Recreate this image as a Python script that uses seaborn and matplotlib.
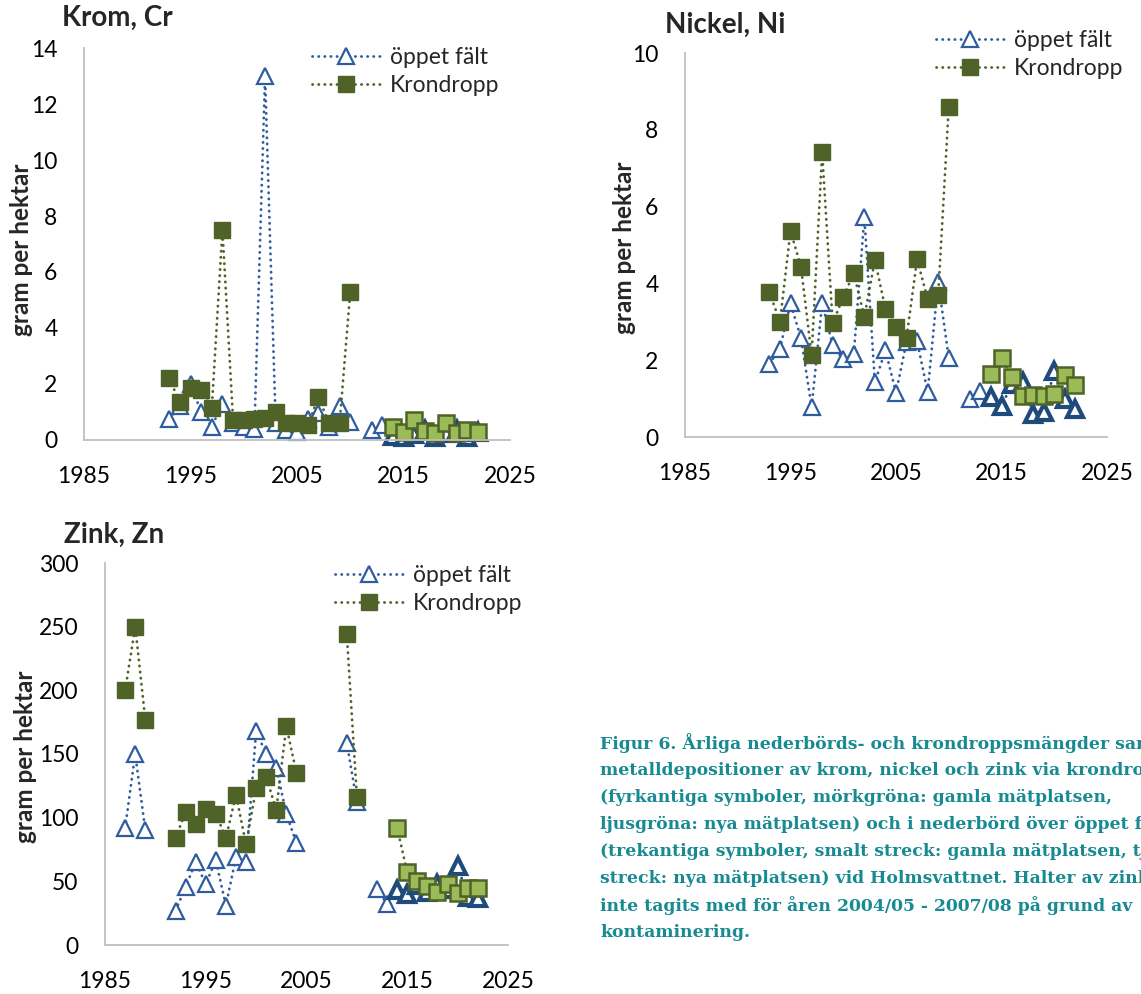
import numpy as np
import pandas as pd
import matplotlib.pyplot as plt
import seaborn as sns
from matplotlib.lines import Line2D

# ---------------- Data ----------------
# Krom, Cr  (gram per hektar)
cr_years_old = [1993, 1994, 1995, 1996, 1997, 1998, 1999, 2000, 2001, 2002,
                2003, 2004, 2005, 2006, 2007, 2008, 2009, 2010]
cr_falt_old_years = cr_years_old + [2012, 2013]
cr_falt_old = [0.75, 1.2, 2.0, 1.0, 0.48, 1.3, 0.6, 0.45, 0.38, 13.0,
               0.6, 0.35, 0.3, 0.75, 0.95, 0.45, 1.2, 0.65, 0.35, 0.55]
cr_kron_old = [2.2, 1.35, 1.85, 1.8, 1.15, 7.5, 0.7, 0.72, 0.75, 0.8,
               1.0, 0.62, 0.62, 0.52, 1.52, 0.62, 0.6, 5.3]
cr_years_new = [2014, 2015, 2016, 2017, 2018, 2019, 2020, 2021, 2022]
cr_falt_new = [0.15, 0.1, 0.2, 0.35, 0.1, 0.25, 0.35, 0.1, 0.3]
cr_kron_new = [0.47, 0.3, 0.71, 0.33, 0.26, 0.6, 0.24, 0.36, 0.27]

# Nickel, Ni
ni_years_old = cr_years_old
ni_falt_old_years = cr_falt_old_years
ni_falt_old = [1.91, 2.30, 3.48, 2.57, 0.78, 3.48, 2.39, 2.02, 2.17, 5.72,
               1.42, 2.26, 1.15, 2.48, 2.50, 1.17, 4.04, 2.06, 1.0, 1.2]
ni_kron_old = [3.77, 3.0, 5.37, 4.42, 2.13, 7.41, 2.96, 3.65, 4.26, 3.13,
               4.61, 3.33, 2.87, 2.59, 4.63, 3.59, 3.70, 8.6]
ni_years_new = cr_years_new
ni_falt_new = [1.03, 0.8, 1.39, 1.42, 0.61, 0.65, 1.72, 1.0, 0.74]
ni_kron_new = [1.63, 2.07, 1.55, 1.07, 1.10, 1.07, 1.13, 1.61, 1.35]

# Zink, Zn
zn_years_old = [1987, 1988, 1989, 1992, 1993, 1994, 1995, 1996, 1997, 1998,
                1999, 2000, 2001, 2002, 2003, 2004, 2009, 2010]
zn_falt_old_years = zn_years_old + [2012, 2013]
zn_falt_old = [92, 150, 90, 27, 45.5, 65, 48, 66.5, 31, 69,
               65, 168, 150, 139, 103, 80, 159, 112, 44, 32]
zn_kron_old = [200, 250, 177, 84, 104.5, 95, 107, 103, 84, 118,
               79, 123, 132, 106, 172, 135, 244, 116.5]
zn_years_new = cr_years_new
zn_falt_new = [43, 40, 47, 42, 48, 44, 62, 38, 37]
zn_kron_new = [92, 57, 50.3, 46.3, 42, 47.7, 41, 44.5, 44.5]

panel_titles = ["Krom, Cr", "Nickel, Ni", "Zink, Zn"]
legend_labels = ["öppet fält", "Krondropp"]
y_label = "gram per hektar"
x_ticks = [1985, 1995, 2005, 2015, 2025]

caption_lines = [
    "Figur 6. Årliga nederbörds- och krondroppsmängder samt",
    "metalldepositioner av krom, nickel och zink via krondropp",
    "(fyrkantiga symboler, mörkgröna: gamla mätplatsen,",
    "ljusgröna: nya mätplatsen) och i nederbörd över öppet fält",
    "(trekantiga symboler, smalt streck: gamla mätplatsen, tjockt",
    "streck: nya mätplatsen) vid Holmsvattnet. Halter av zink har",
    "inte tagits med för åren 2004/05 - 2007/08 på grund av",
    "kontaminering.",
]

# ---------------- Style ----------------
BLUE = "#2F5C9E"
NAVY = "#1F4A7C"
DARK_GREEN = "#4F6228"
LIGHT_GREEN = "#9BBB59"
AXIS_GRAY = "#BFBFBF"
TEAL = "#178A92"
DOTS = (0, (0.1, 2.1))
LW = 2.0
MS = 12

sns.set_theme(style="white")
plt.rcParams["font.family"] = ["Lato", "DejaVu Sans"]

W, H = 1141, 994
fig = plt.figure(figsize=(W / 100, H / 100), dpi=100)


def px_axes(left, right, top, bottom):
    # axes rectangle from pixel edges
    return fig.add_axes([left / W, 1 - bottom / H, (right - left) / W, (bottom - top) / H])


def draw_series(ax, years, values, marker, mfc, mec, mew, line_color):
    df = pd.DataFrame({"year": years, "value": values})
    df["seg"] = (df["year"].diff() > 1).cumsum()
    sns.lineplot(data=df, x="year", y="value", units="seg", estimator=None,
                 ax=ax, color=line_color, lw=LW, linestyle=DOTS,
                 dash_capstyle="round", marker=marker, markersize=MS,
                 markerfacecolor=mfc, markeredgecolor=mec,
                 markeredgewidth=mew, legend=False, clip_on=False, sort=True)


def style_axes(ax, ymax, ystep):
    ax.set_xlim(1985, 2025)
    ax.set_ylim(0, ymax)
    ax.set_xticks(x_ticks)
    ax.set_yticks(np.arange(0, ymax + ystep / 2, ystep))
    ax.set_xlabel("")
    ax.set_ylabel("")
    for s in ["top", "right"]:
        ax.spines[s].set_visible(False)
    for s in ["left", "bottom"]:
        ax.spines[s].set_color(AXIS_GRAY)
        ax.spines[s].set_linewidth(1.3)
    ax.tick_params(axis="x", length=0, pad=19, labelsize=16.5, colors="black")
    ax.tick_params(axis="y", length=0, pad=19, labelsize=16.5, colors="black")


def panel(ax, fo_years, fo, ko_years, ko, new_years, fn, kn):
    draw_series(ax, fo_years, fo, "^", "white", BLUE, 1.6, BLUE)
    draw_series(ax, new_years, fn, "^", "white", NAVY, 3.0, NAVY)
    draw_series(ax, ko_years, ko, "s", DARK_GREEN, DARK_GREEN, 1.0, DARK_GREEN)
    draw_series(ax, new_years, kn, "s", LIGHT_GREEN, DARK_GREEN, 1.8, DARK_GREEN)


def add_legend(ax, x_px, y_px):
    handles = [
        Line2D([], [], color=BLUE, lw=LW, linestyle=DOTS, dash_capstyle="round",
               marker="^", ms=MS, mfc="white", mec=BLUE, mew=1.6),
        Line2D([], [], color=DARK_GREEN, lw=LW, linestyle=DOTS, dash_capstyle="round",
               marker="s", ms=MS, mfc=DARK_GREEN, mec=DARK_GREEN, mew=1.0),
    ]
    ax.legend(handles, legend_labels, loc="upper left", frameon=False,
              bbox_to_anchor=(x_px / W, 1 - y_px / H), bbox_transform=fig.transFigure,
              borderpad=0, borderaxespad=0, handlelength=3.0, handletextpad=0.4,
              labelspacing=0.3, fontsize=16.5, numpoints=1)


# ---------------- Krom ----------------
ax_cr = px_axes(84, 510, 48, 440)
panel(ax_cr, cr_falt_old_years, cr_falt_old, cr_years_old, cr_kron_old,
      cr_years_new, cr_falt_new, cr_kron_new)
style_axes(ax_cr, 14, 2)
add_legend(ax_cr, 312, 47)

# ---------------- Nickel ----------------
ax_ni = px_axes(685, 1107, 53, 437)
panel(ax_ni, ni_falt_old_years, ni_falt_old, ni_years_old, ni_kron_old,
      ni_years_new, ni_falt_new, ni_kron_new)
style_axes(ax_ni, 10, 2)
add_legend(ax_ni, 936, 30)

# ---------------- Zink ----------------
ax_zn = px_axes(105, 508, 563, 945)
panel(ax_zn, zn_falt_old_years, zn_falt_old, zn_years_old, zn_kron_old,
      zn_years_new, zn_falt_new, zn_kron_new)
style_axes(ax_zn, 300, 50)
add_legend(ax_zn, 335, 565)

# ---------------- Titles and y labels ----------------
for title, (tx, ty) in zip(panel_titles, [(62, 18), (665, 25), (64, 535)]):
    fig.text(tx / W, 1 - ty / H, title, fontsize=20, fontweight="bold",
             ha="left", va="center")

for (lx, ly) in [(22, 250), (624, 248), (26, 757)]:
    fig.text(lx / W, 1 - ly / H, y_label, fontsize=17.5, fontweight="bold",
             rotation=90, ha="center", va="center")

# ---------------- Caption ----------------
for i, line in enumerate(caption_lines):
    fig.text(600 / W, 1 - (743 + i * 27.1) / H, line, fontsize=12.4,
             fontweight="bold", color=TEAL, family="DejaVu Serif",
             ha="left", va="center")

fig.savefig("out.png", dpi=100)
